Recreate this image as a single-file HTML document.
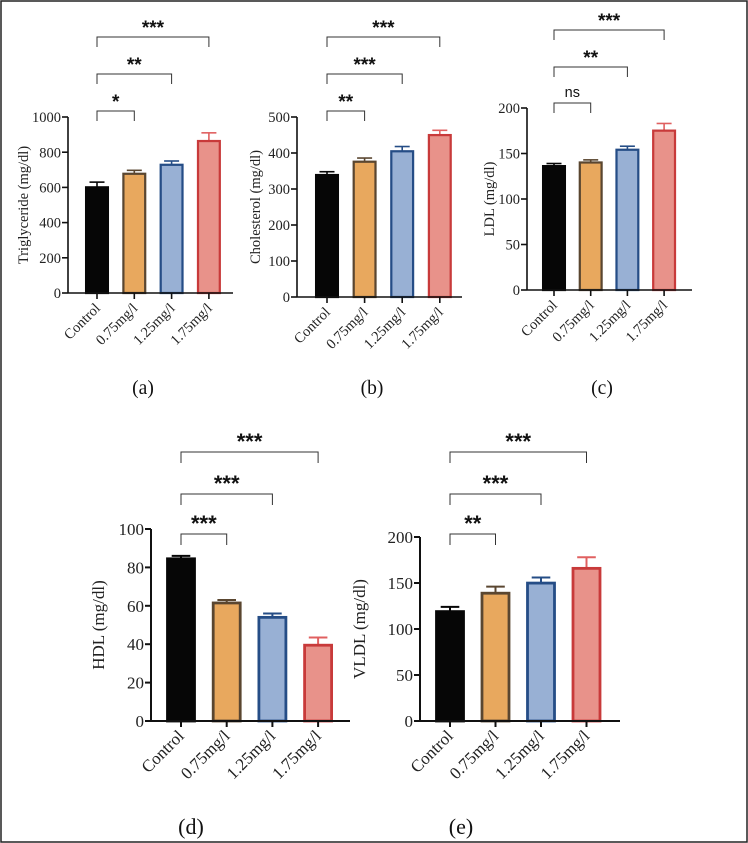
<!DOCTYPE html>
<html><head><meta charset="utf-8"><style>
body{margin:0;background:#fff;}
svg{display:block;font-family:"Liberation Serif",serif;}
</style></head><body>
<svg id="fig" width="748" height="843" viewBox="0 0 748 843" xmlns="http://www.w3.org/2000/svg">
<rect x="1" y="1" width="746" height="841" fill="#fff" stroke="#222" stroke-width="1.5"/>
</svg>
<script>
const categories = ["Control","0.75mg/l","1.25mg/l","1.75mg/l"];
const tgMeans = [605, 682, 733, 868];
const tgErrTop = [630, 697, 750, 910];
const cholMeans = [341, 378, 407, 452];
const cholErrTop = [348, 386, 418, 463];
const ldlMeans = [137, 141, 155, 176];
const ldlErrTop = [139, 143, 158, 183];
const hdlMeans = [85, 62, 54.5, 40];
const hdlErrTop = [86, 63, 56, 43.5];
const vldlMeans = [120, 140, 151, 167];
const vldlErrTop = [124, 146, 156, 178];
const tgStars = ["*","**","***"];
const cholStars = ["**","***","***"];
const ldlStars = ["ns","**","***"];
const hdlStars = ["***","***","***"];
const vldlStars = ["**","***","***"];
const tgTicks = [0,200,400,600,800,1000];
const cholTicks = [0,100,200,300,400,500];
const ldlTicks = [0,50,100,150,200];
const hdlTicks = [0,20,40,60,80,100];
const vldlTicks = [0,50,100,150,200];

const fills = ["#060606","#e8a85e","#98b0d4","#e8928a"];
const strokes = ["#060606","#5a4630","#254d86","#c83a3a"];
const errCols = ["#060606","#5a4630","#254d86","#e06060"];
const NS = "http://www.w3.org/2000/svg";
const svg = document.getElementById("fig");
function mk(tag, attrs, parent){const e=document.createElementNS(NS,tag);for(const k in attrs)e.setAttribute(k,attrs[k]);(parent||svg).appendChild(e);return e;}

function panel(cfg, means, errs, ticks, stars){
  const g = mk("g",{});
  
  
  const maxV = ticks[ticks.length-1];
  const y = v => cfg.y0 - (v/maxV)*(cfg.y0-cfg.yTop);
  const x = i => cfg.x1 + i*cfg.step;
  const lw = cfg.lw;
  means.forEach((m,i)=>{
    const bw = cfg.bw;
    const eb = mk("line",{x1:x(i),x2:x(i),y1:y(m),y2:y(errs[i]),stroke:errCols[i],"stroke-width":lw},g);
    
    
    const cap = mk("line",{x1:x(i)-bw*0.3,x2:x(i)+bw*0.3,y1:y(errs[i]),y2:y(errs[i]),stroke:errCols[i],"stroke-width":lw},g);
    
    
    const r = mk("rect",{x:x(i)-bw/2+lw,y:y(m)+lw/2,width:bw-2*lw,height:cfg.y0-y(m)-lw/2,fill:fills[i],stroke:strokes[i],"stroke-width":lw*1.4},g);
    
    
  });
  const ya = mk("line",{x1:cfg.ax,x2:cfg.ax,y1:cfg.yTop,y2:cfg.y0,stroke:"#111","stroke-width":lw},g);
  
  
  const xa = mk("line",{x1:cfg.ax,x2:cfg.axEnd,y1:cfg.y0,y2:cfg.y0,stroke:"#111","stroke-width":lw},g);
  
  
  ticks.forEach(t=>{
    mk("line",{x1:cfg.ax-6,x2:cfg.ax,y1:y(t),y2:y(t),stroke:"#111","stroke-width":lw},g);
    const tl = mk("text",{x:cfg.ax-7,y:y(t)+cfg.fs*0.35,"text-anchor":"end","font-size":cfg.fs,fill:"#222"},g);
    tl.textContent = t;
    
    
  });
  categories.forEach((c,i)=>{
    mk("line",{x1:x(i),x2:x(i),y1:cfg.y0,y2:cfg.y0+6,stroke:"#111","stroke-width":lw},g);
    const tx = x(i)+4, ty = cfg.y0+16;
    const cl = mk("text",{x:tx,y:ty,"text-anchor":"end","font-size":cfg.fs,fill:"#222",transform:`rotate(-45 ${tx} ${ty})`},g);
    cl.textContent = c;
    
    
  });
  const yt = mk("text",{x:cfg.ytX,y:(cfg.yTop+cfg.y0)/2,"text-anchor":"middle","font-size":cfg.fs,fill:"#222",transform:`rotate(-90 ${cfg.ytX} ${(cfg.yTop+cfg.y0)/2})`},g);
  yt.textContent = cfg.title;
  
  
  stars.forEach((s,k)=>{
    const by = cfg.br[k], xe = x(k+1);
    const p = mk("path",{d:`M${x(0)} ${by+cfg.drop} V${by} H${xe} V${by+cfg.drop}`,fill:"none",stroke:"#333","stroke-width":1},g);
    
    
    const st = mk("text",{x:(x(0)+xe)/2,y:s==="ns"?by-6:by-3,"text-anchor":"middle","font-size":s==="ns"?cfg.fs:cfg.sfs,"font-weight":s==="ns"?"normal":"bold","font-family":"Liberation Sans,sans-serif",fill:"#111"},g);
    st.textContent = s;
    
    
  });
  const lab = mk("text",{x:cfg.labX,y:cfg.labY,"text-anchor":"middle","font-size":cfg.fs+5,fill:"#111"},g);
  lab.textContent = cfg.label;
  
  
}

panel({id:"triglyceride",ax:68,axEnd:233,yTop:117,y0:293,x1:97,step:37.3,bw:25,lw:1.6,fs:14.5,sfs:19,ytX:28,title:"Triglyceride (mg/dl)",br:[111,74,37],drop:10,labX:143,labY:394,label:"(a)"}, tgMeans, tgErrTop, tgTicks, tgStars);
panel({id:"cholesterol",ax:297,axEnd:462,yTop:117,y0:297,x1:327,step:37.6,bw:25,lw:1.6,fs:14.5,sfs:19,ytX:260,title:"Cholesterol (mg/dl)",br:[111,74,37],drop:10,labX:372,labY:394,label:"(b)"}, cholMeans, cholErrTop, cholTicks, cholStars);
panel({id:"ldl",ax:527,axEnd:692,yTop:108,y0:290,x1:554,step:36.7,bw:25,lw:1.6,fs:14.5,sfs:19,ytX:494,title:"LDL (mg/dl)",br:[103,67,30],drop:10,labX:602,labY:394,label:"(c)"}, ldlMeans, ldlErrTop, ldlTicks, ldlStars);
panel({id:"hdl",ax:151,axEnd:350,yTop:529,y0:721,x1:181,step:45.7,bw:31,lw:2,fs:17,sfs:22,ytX:104,title:"HDL (mg/dl)",br:[534,494,452],drop:11,labX:191,labY:834,label:"(d)"}, hdlMeans, hdlErrTop, hdlTicks, hdlStars);
panel({id:"vldl",ax:420,axEnd:620,yTop:537,y0:721,x1:450,step:45.5,bw:31,lw:2,fs:17,sfs:22,ytX:365,title:"VLDL (mg/dl)",br:[534,494,452],drop:11,labX:461,labY:834,label:"(e)"}, vldlMeans, vldlErrTop, vldlTicks, vldlStars);
</script>
</body></html>
